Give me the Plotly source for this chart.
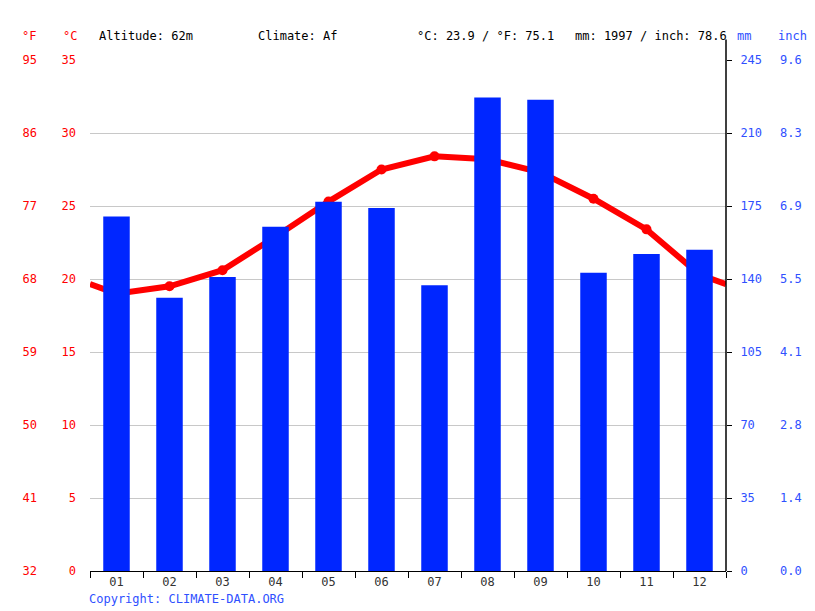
import plotly.graph_objects as go

# -- datos (Altitude 62m, clima Af)
meses = ["01", "02", "03", "04", "05", "06", "07", "08", "09", "10", "11", "12"]
precip_mm = [170, 131, 141, 165, 177, 174, 137, 227, 226, 143, 152, 154]
temp_c = [19.0, 19.5, 20.6, 22.9, 25.3, 27.5, 28.4, 28.2, 27.3, 25.5, 23.4, 20.3]

c_ticks = [0, 5, 10, 15, 20, 25, 30, 35]
f_labels = ["32", "41", "50", "59", "68", "77", "86", "95"]
mm_ticks = [0, 35, 70, 105, 140, 175, 210, 245]
inch_labels = ["0.0", "1.4", "2.8", "4.1", "5.5", "6.9", "8.3", "9.6"]

ROJO = "#ff0000"
AZUL = "#0026ff"
AZUL_TXT = "#2f50ff"
FUENTE = "DejaVu Sans Mono"

pos = list(range(1, 13))
# la linea de temperatura llega a los bordes con el promedio dic/ene
borde = (temp_c[0] + temp_c[-1]) / 2
x_linea = [0.5] + pos + [12.5]
y_linea = [borde] + temp_c + [borde]

fig = go.Figure()
fig.add_trace(go.Bar(x=pos, y=precip_mm, yaxis="y2", marker=dict(color=AZUL, line=dict(width=0)),
                     width=0.5, name="mm"))
fig.add_trace(go.Scatter(x=x_linea, y=y_linea, mode="lines",
                         line=dict(color=ROJO, width=6), name="°C"))
fig.add_trace(go.Scatter(x=pos, y=temp_c, mode="markers",
                         marker=dict(color=ROJO, size=10), name="°C"))
# ejes y3/y4 necesitan una traza para dibujarse
fig.add_trace(go.Scatter(x=[1], y=[None], yaxis="y3", showlegend=False))
fig.add_trace(go.Scatter(x=[1], y=[None], yaxis="y4", showlegend=False))

fig.update_layout(
    width=807, height=603,
    margin=dict(l=82, r=89, t=52, b=40),
    paper_bgcolor="white", plot_bgcolor="white",
    showlegend=False,
    font=dict(family=FUENTE, size=12, color="#333333"),
    xaxis=dict(range=[0.5, 12.5], tickvals=pos, ticktext=meses, ticks="",
               minor=dict(tickvals=[p - 0.5 for p in pos] + [12.5], ticks="outside",
                          ticklen=6, tickcolor="black", showgrid=False),
               showline=True, linecolor="black", linewidth=1, zeroline=False,
               showgrid=False, tickfont=dict(color="#333333", size=12)),
    yaxis=dict(range=[0, 35], tickvals=c_ticks, showgrid=True, gridcolor="#c8c8c8",
               zeroline=False, showline=False, ticks="", ticklabelstandoff=13,
               tickfont=dict(color=ROJO, size=12)),
    yaxis3=dict(overlaying="y", anchor="free", position=0, side="left", range=[0, 35],
                tickvals=c_ticks, ticktext=f_labels, showgrid=False, zeroline=False,
                showline=False, ticks="", ticklabelstandoff=53,
                tickfont=dict(color=ROJO, size=12)),
    yaxis2=dict(overlaying="y", side="right", range=[0, 245], tickvals=mm_ticks,
                showgrid=False, zeroline=False, showline=False, ticks="outside",
                ticklen=5, tickcolor="black", ticklabelstandoff=6,
                tickfont=dict(color=AZUL_TXT, size=12)),
    yaxis4=dict(overlaying="y", anchor="free", position=1, side="right", range=[0, 245],
                tickvals=mm_ticks, ticktext=inch_labels, showgrid=False, zeroline=False,
                showline=False, ticks="", ticklabelstandoff=53,
                tickfont=dict(color=AZUL_TXT, size=12)),
)

# linea vertical del eje derecho (sube por encima del area)
fig.add_shape(type="line", xref="paper", yref="paper", x0=1, x1=1, y0=0, y1=1.04,
              line=dict(color="black", width=1.5))

y_enc = 1.047
encabezado = [
    (-70 / 636, "°F", ROJO),
    (-29 / 636, "°C", ROJO),
    (7 / 636, "Altitude: 62m", "black"),
    (166 / 636, "Climate: Af", "black"),
    (325 / 636, "°C: 23.9 / °F: 75.1", "black"),
    (483 / 636, "mm: 1997 / inch: 78.6", "black"),
    (1 + 9 / 636, "mm", AZUL_TXT),
    (1 + 50 / 636, "inch", AZUL_TXT),
]
for xp, txt, col in encabezado:
    fig.add_annotation(x=xp, y=y_enc, xref="paper", yref="paper", text=txt, showarrow=False,
                       xanchor="left", yanchor="middle", font=dict(color=col, size=12, family=FUENTE))
fig.add_annotation(x=-3 / 636, y=-0.055, xref="paper", yref="paper", text="Copyright: CLIMATE-DATA.ORG",
                   showarrow=False, xanchor="left", yanchor="middle",
                   font=dict(color=AZUL_TXT, size=12, family=FUENTE))

fig.write_html("out.html")
